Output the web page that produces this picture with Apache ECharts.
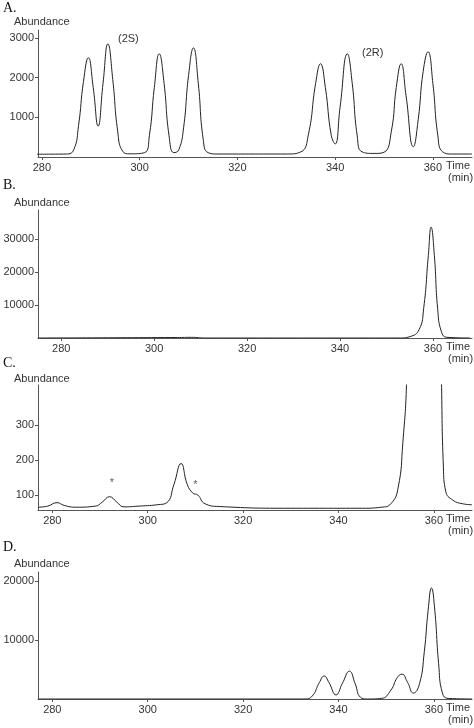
<!DOCTYPE html>
<html><head><meta charset="utf-8">
<script src="https://cdn.jsdelivr.net/npm/echarts@6/dist/echarts.min.js"></script>
<style>html,body{margin:0;background:#fff}#c{width:474px;height:728px}</style>
</head><body><div id="c"></div>
<script>
// ===== Data =====
const traceA = [[279,70],[285,75],[286.5,180],[287.5,800],[288.5,1900],[289.5,2500],[290.5,1750],[291.5,780],[292.5,1850],[293.5,2850],[294.5,1950],[295.5,650],[296.5,150],[298,80],[301,110],[302,550],[303,1750],[304,2600],[305,1850],[306,550],[307,110],[308,180],[309,750],[310,2050],[311,2750],[312,1850],[313,450],[314,110],[316,75],[330,75],[333,130],[334.5,550],[336,1850],[337,2350],[338,1750],[339.2,550],[340,330],[341,1250],[342.5,2600],[343.5,1850],[344.5,550],[345.5,130],[348,90],[350,120],[351.5,650],[352.5,1750],[353.5,2350],[354.5,1550],[356,260],[357,950],[358,2150],[359,2650],[360,1850],[361,550],[362,130],[364,75],[368,75]];
const traceB = [[275,0],[305,150],[308,200],[311,0],[353,0],[355,400],[357,2500],[358,9000],[359,25000],[359.6,33600],[360.3,25000],[361,9000],[361.8,2000],[363,200],[368,0]];
const traceC = [[277,65],[279,68],[281,78],[282.5,70],[285,65],[289,68],[290.5,80],[292,95],[293.5,80],[295,66],[298,68],[302,72],[304,78],[305.5,130],[307,190],[308.3,130],[309.5,105],[310.5,100],[312,75],[315,67],[330,62],[345,62],[349,65],[351,75],[352.5,120],[353.5,250],[354.3,430],[355,900],[358,9000],[361,900],[361.6,430],[362,180],[362.5,110],[364,85],[366,75],[368,72]];
const traceD = [[277,0],[333,0],[334.5,500],[336,2800],[337,3900],[338,2800],[339.5,700],[340.8,2600],[342.3,4700],[343.5,2600],[344.6,300],[346,0],[349,100],[351,1500],[352.3,3600],[353.3,4200],[354.5,2800],[355.7,1000],[357,2600],[358,8000],[358.8,15000],[359.5,18800],[360.2,15000],[361,6000],[361.8,1000],[363,100],[368,0]];
const starsC = [[292.5,133],[310,128]];

const xTicks = [280,300,320,340,360];
const yTicksA = [1000,2000,3000];
const yTicksB = [10000,20000,30000];
const yTicksC = [100,200,300];
const yTicksD = [10000,20000];

// ===== Layout =====
const panels = [
  {label:'A.', data:traceA, top:30,  bottom:157, xmin:279.2, xmax:368,   ymin:0,  ymax:3200,  yt:yTicksA, ly:1,   ay:16},
  {label:'B.', data:traceB, top:210, bottom:338, xmin:275,   xmax:368.4, ymin:0,  ymax:38800, yt:yTicksB, ly:178, ay:197},
  {label:'C.', data:traceC, top:385, bottom:510, xmin:277,   xmax:368,   ymin:57, ymax:415,   yt:yTicksC, ly:356, ay:373},
  {label:'D.', data:traceD, top:572, bottom:699, xmin:277,   xmax:368,   ymin:0,  ymax:21500, yt:yTicksD, ly:540, ay:558}
];

const txt = {color:'#333', fontFamily:'Liberation Sans, Arial', fontSize:11};
const grid = [], xAxis = [], yAxis = [], series = [], graphic = [];
panels.forEach((p, i) => {
  grid.push({left:38, width:434, top:p.top, height:p.bottom - p.top});
  xAxis.push({type:'value', gridIndex:i, min:p.xmin, max:p.xmax,
    axisLine:{lineStyle:{color:'#555'}}, splitLine:{show:false},
    axisTick:{customValues:xTicks, length:3, lineStyle:{color:'#555'}},
    axisLabel:Object.assign({customValues:xTicks, margin:5, formatter:v => String(v)}, txt)});
  yAxis.push({type:'value', gridIndex:i, min:p.ymin, max:p.ymax,
    axisLine:{show:true, lineStyle:{color:'#555'}}, splitLine:{show:false},
    axisTick:{show:true, customValues:p.yt, length:3, lineStyle:{color:'#555'}},
    axisLabel:Object.assign({customValues:p.yt, margin:4, formatter:v => String(v)}, txt)});
  series.push({type:'line', xAxisIndex:i, yAxisIndex:i, data:p.data, smooth:0.5,
    showSymbol:false, clip:true, lineStyle:{color:'#222', width:1}});
  graphic.push({type:'text', left:3, top:p.ly, style:{text:p.label, fill:'#111', font:'14px Liberation Serif'}});
  graphic.push({type:'text', left:14, top:p.ay, style:{text:'Abundance', fill:'#333', font:'11px Liberation Sans'}});
  graphic.push({type:'text', left:446, top:p.bottom + 3, style:{text:'Time', fill:'#333', font:'11px Liberation Sans'}});
  graphic.push({type:'text', left:448, top:p.bottom + 15, style:{text:'(min)', fill:'#333', font:'11px Liberation Sans'}});
});
series.push({type:'scatter', xAxisIndex:2, yAxisIndex:2, data:starsC, symbolSize:0,
  label:{show:true, formatter:'*', color:'#333', fontSize:11}});

graphic.push({type:'text', left:118, top:33, style:{text:'(2S)', fill:'#333', font:'11px Liberation Sans'}});
graphic.push({type:'text', left:362, top:47, style:{text:'(2R)', fill:'#333', font:'11px Liberation Sans'}});

const chart = echarts.init(document.getElementById('c'));
chart.setOption({animation:false, grid, xAxis, yAxis, series, graphic});
</script></body></html>
